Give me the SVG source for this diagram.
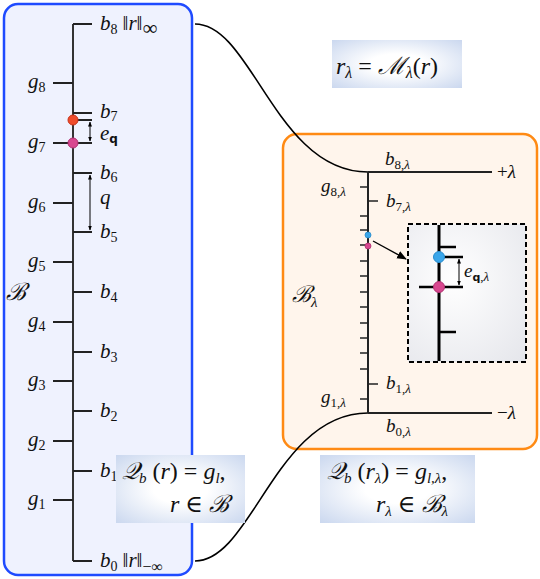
<svg xmlns="http://www.w3.org/2000/svg" width="540" height="579" viewBox="0 0 540 579">
<defs>
<style>
.m{font-family:"Liberation Serif","DejaVu Serif",serif;font-size:21px;fill:#111}
.r{font-family:"Liberation Serif","DejaVu Serif",serif;font-size:19px;fill:#111}
.f{font-family:"Liberation Serif","DejaVu Serif",serif;font-size:24px;fill:#111}
.i{font-style:italic}
.u{font-style:normal}
.s{font-style:normal;font-size:14px}
.t{font-size:13px}
.sf{font-family:"DejaVu Sans","Liberation Sans",sans-serif;font-style:normal;font-weight:bold}
.ax{stroke:#333;stroke-width:2;fill:none}
.tk{stroke:#222;stroke-width:2;fill:none}
.cv{stroke:#000;stroke-width:1.6;fill:none}
.ar{stroke:#000;stroke-width:1;fill:none;marker-start:url(#ah);marker-end:url(#ah)}
</style>
<marker id="ah" viewBox="0 0 10 10" refX="9" refY="5" markerWidth="5" markerHeight="5" orient="auto-start-reverse"><path d="M0,1 L10,5 L0,9 z" fill="#000"/></marker>
<marker id="ah2" viewBox="0 0 10 10" refX="9" refY="5" markerWidth="7" markerHeight="7" orient="auto"><path d="M0,1 L10,5 L0,9 z" fill="#000"/></marker>
<radialGradient id="fg" cx="0.5" cy="0.5" r="0.7"><stop offset="0.3" stop-color="#ffffff"/><stop offset="1" stop-color="#cbd8ef"/></radialGradient>
<radialGradient id="ig" cx="0.4" cy="0.4" r="0.8"><stop offset="0" stop-color="#ffffff"/><stop offset="1" stop-color="#e6e7ec"/></radialGradient>
</defs>

<g id="box-B">
<rect x="4" y="4" width="188" height="571" rx="14" fill="#eff2fe" stroke="#1f4bff" stroke-width="2.5"/>
<text class="m i" x="6" y="300" style="font-size:24px">ℬ</text>
</g>

<g id="box-Blambda">
<rect x="283" y="134" width="254" height="315" rx="14" fill="#fff5ec" stroke="#ff8a14" stroke-width="2.5"/>
<text class="m i" x="292" y="302" style="font-size:23px">ℬ<tspan dy="5" style="font-size:15px">λ</tspan></text>
</g>

<g id="connectors">
<path class="cv" d="M195,24 C252,24 276,172 368,172"/>
<path class="cv" d="M195,561 C252,561 276,413 368,413"/>
<path d="M373,241 L406,259" stroke="#000" stroke-width="1.4" marker-end="url(#ah2)"/>
</g>

<g id="axis-B">
<line class="ax" x1="73" y1="24" x2="73" y2="561"/>
<path class="tk" d="M73,24H92 M73,113H92 M73,120H92 M73,173H92 M73,232H92 M73,292H92 M73,352H92 M73,411H92 M73,471H92 M73,561H92"/>
<path class="tk" d="M53,83H73 M53,143H92 M53,203H73 M53,262H73 M53,322H73 M53,381H73 M53,441H73 M53,500H73"/>
<line class="ar" x1="90" y1="122" x2="90" y2="141"/>
<line class="ar" x1="90" y1="175" x2="90" y2="230"/>
<circle cx="73" cy="120" r="5" fill="#ee4b2b" stroke="#c8331a" stroke-width="1"/>
<circle cx="73" cy="143" r="5" fill="#d8478f" stroke="#b03272" stroke-width="1"/>
</g>

<g id="labels-B">
<text class="m i" x="28" y="88">g<tspan class="s" dy="4">8</tspan></text>
<text class="m i" x="28" y="148">g<tspan class="s" dy="4">7</tspan></text>
<text class="m i" x="28" y="208">g<tspan class="s" dy="4">6</tspan></text>
<text class="m i" x="28" y="267">g<tspan class="s" dy="4">5</tspan></text>
<text class="m i" x="28" y="327">g<tspan class="s" dy="4">4</tspan></text>
<text class="m i" x="28" y="386">g<tspan class="s" dy="4">3</tspan></text>
<text class="m i" x="28" y="446">g<tspan class="s" dy="4">2</tspan></text>
<text class="m i" x="28" y="505">g<tspan class="s" dy="4">1</tspan></text>
<text class="m i" x="100" y="30">b<tspan class="s" dy="4">8</tspan><tspan class="u" dy="-4" dx="5">‖</tspan>r<tspan class="u">‖</tspan><tspan class="u" dy="5">∞</tspan></text>
<text class="m i" x="100" y="118">b<tspan class="s" dy="3">7</tspan></text>
<text class="m i" x="100" y="140">e<tspan class="sf" style="font-size:12px" dy="3">q</tspan></text>
<text class="m i" x="100" y="179">b<tspan class="s" dy="3">6</tspan></text>
<text class="m i" x="100" y="204">q</text>
<text class="m i" x="100" y="238">b<tspan class="s" dy="4">5</tspan></text>
<text class="m i" x="100" y="298">b<tspan class="s" dy="4">4</tspan></text>
<text class="m i" x="100" y="358">b<tspan class="s" dy="4">3</tspan></text>
<text class="m i" x="100" y="417">b<tspan class="s" dy="4">2</tspan></text>
<text class="m i" x="100" y="477">b<tspan class="s" dy="4">1</tspan></text>
<text class="m i" x="100" y="567">b<tspan class="s" dy="4">0</tspan><tspan class="u" dy="-4" dx="5">‖</tspan>r<tspan class="u">‖</tspan><tspan class="u" style="font-size:16px" dy="5">−∞</tspan></text>
</g>

<g id="axis-Blambda">
<path class="tk" d="M368,172H492 M368,413H492"/>
<line class="tk" x1="368" y1="172" x2="368" y2="413"/>
<path class="tk" d="M360,187H368 M368,201H378 M360,216H368 M360,230H368 M360,245H368 M360,261H368 M360,276H368 M360,292H368 M360,307H368 M360,323H368 M360,338H368 M360,353H368 M360,369H368 M368,384H378 M360,399H368" style="stroke-width:1.5"/>
<circle cx="368" cy="235" r="3" fill="#3aa6ea" stroke="#2a8ccc" stroke-width="0.8"/>
<circle cx="368" cy="246" r="3" fill="#d8478f" stroke="#b03272" stroke-width="0.8"/>
</g>

<g id="labels-Blambda">
<text class="r i" x="385" y="165">b<tspan class="u t" dy="4">8,</tspan><tspan class="t">λ</tspan></text>
<text class="r" x="497" y="178">+<tspan class="i">λ</tspan></text>
<text class="r i" x="321" y="192">g<tspan class="u t" dy="4">8,</tspan><tspan class="t">λ</tspan></text>
<text class="r i" x="386" y="207">b<tspan class="u t" dy="4">7,</tspan><tspan class="t">λ</tspan></text>
<text class="r i" x="386" y="389">b<tspan class="u t" dy="4">1,</tspan><tspan class="t">λ</tspan></text>
<text class="r i" x="321" y="403">g<tspan class="u t" dy="4">1,</tspan><tspan class="t">λ</tspan></text>
<text class="r" x="497" y="419">−<tspan class="i">λ</tspan></text>
<text class="r i" x="386" y="432">b<tspan class="u t" dy="4">0,</tspan><tspan class="t">λ</tspan></text>
</g>

<g id="inset">
<rect x="408" y="224" width="118" height="138" fill="url(#ig)" stroke="#000" stroke-width="2" stroke-dasharray="5,3"/>
<line x1="439" y1="225" x2="439" y2="361" stroke="#000" stroke-width="3"/>
<path d="M439,247H456 M439,257H463 M419,287H463 M439,332H456" stroke="#000" stroke-width="2.5" fill="none"/>
<line class="ar" x1="459" y1="259" x2="459" y2="285"/>
<circle cx="439" cy="257" r="5.5" fill="#3aa6ea" stroke="#2a8ccc" stroke-width="1"/>
<circle cx="439" cy="287" r="5.5" fill="#d8478f" stroke="#b03272" stroke-width="1"/>
<text class="r i" x="464" y="277">e<tspan class="sf" style="font-size:11px" dy="4">q</tspan><tspan class="u t">,</tspan><tspan class="t">λ</tspan></text>
</g>

<g id="formula-map">
<rect x="332" y="40" width="130" height="48" fill="url(#fg)"/>
<text class="f i" x="336" y="74">r<tspan style="font-size:16px" dy="4">λ</tspan><tspan class="u" dy="-4"> = </tspan>ℳ<tspan style="font-size:16px" dy="4">λ</tspan><tspan class="u" dy="-4">(</tspan>r<tspan class="u">)</tspan></text>
</g>

<g id="formula-B">
<rect x="116" y="455" width="129" height="68" fill="url(#fg)"/>
<text class="f i" x="122" y="479">𝒬<tspan style="font-size:15px" dy="4">b</tspan><tspan class="u" dy="-4"> (</tspan>r<tspan class="u">) = </tspan>g<tspan style="font-size:15px" dy="4">l</tspan><tspan class="u" dy="-4">,</tspan></text>
<text class="f i" x="170" y="512">r<tspan class="u"> ∈ </tspan>ℬ</text>
</g>

<g id="formula-Blambda">
<rect x="320" y="455" width="155" height="68" fill="url(#fg)"/>
<text class="f i" x="327" y="479">𝒬<tspan style="font-size:15px" dy="4">b</tspan><tspan class="u" dy="-4"> (</tspan>r<tspan style="font-size:15px" dy="4">λ</tspan><tspan class="u" dy="-4">) = </tspan>g<tspan style="font-size:15px" dy="4">l,λ</tspan><tspan class="u" dy="-4">,</tspan></text>
<text class="f i" x="376" y="512">r<tspan style="font-size:15px" dy="4">λ</tspan><tspan class="u" dy="-4"> ∈ </tspan>ℬ<tspan style="font-size:15px" dy="4">λ</tspan></text>
</g>
</svg>
